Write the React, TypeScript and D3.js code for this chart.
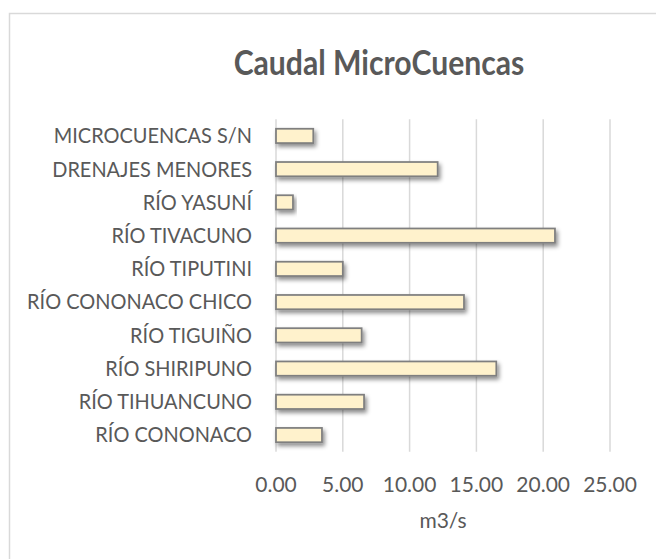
import * as d3 from "d3";

// categorías de arriba hacia abajo
const categories = [
  "MICROCUENCAS S/N",
  "DRENAJES MENORES",
  "RÍO YASUNÍ",
  "RÍO TIVACUNO",
  "RÍO TIPUTINI",
  "RÍO CONONACO CHICO",
  "RÍO TIGUIÑO",
  "RÍO SHIRIPUNO",
  "RÍO TIHUANCUNO",
  "RÍO CONONACO",
];
const caudal = [2.79, 12.1, 1.27, 20.88, 5.0, 14.07, 6.41, 16.49, 6.59, 3.44];
const ticks = [0, 5, 10, 15, 20, 25];

const W = 656;
const H = 559;
const plot = { left: 276, right: 610, top: 119.3, bottom: 451.7 };
const textColor = "#595959";
const font = "Lato, 'Open Sans', sans-serif";

export default function App() {
  const x = d3.scaleLinear().domain([0, 25]).range([plot.left, plot.right]);
  const y = d3
    .scaleBand<string>()
    .domain(categories)
    .range([plot.top, plot.bottom])
    .paddingInner(0.57)
    .paddingOuter(0.285);
  const fmt = d3.format(".2f");

  return (
    <svg
      width={W}
      height={H}
      style={{ position: "absolute", left: 0, top: 0, background: "#fff" }}
    >
      <defs>
        <filter id="sombra" x="-10%" y="-50%" width="130%" height="220%">
          <feDropShadow dx="2" dy="3" stdDeviation="2" floodColor="#000" floodOpacity="0.45" />
        </filter>
      </defs>

      {/* marco del gráfico */}
      <rect x={9.5} y={13.5} width={800} height={700} fill="#fff" stroke="#d9d9d9" strokeWidth={1.5} />

      <text
        transform="translate(379,75) scale(0.9,1)"
        textAnchor="middle"
        fontFamily={font}
        fontWeight="bold"
        fontSize={33.5}
        fill={textColor}
      >
        Caudal MicroCuencas
      </text>

      {/* grilla vertical */}
      {ticks.map((t) => (
        <line
          key={t}
          x1={x(t)}
          x2={x(t)}
          y1={plot.top}
          y2={plot.bottom}
          stroke="#d9d9d9"
          strokeWidth={1.5}
        />
      ))}

      {/* barras */}
      {categories.map((c, i) => (
        <rect
          key={c}
          x={x(0)}
          y={y(c)}
          width={x(caudal[i]) - x(0)}
          height={y.bandwidth()}
          fill="#fff2cc"
          stroke="#7f7f7f"
          strokeWidth={1.75}
          filter="url(#sombra)"
        />
      ))}

      {/* etiquetas de categorías */}
      {categories.map((c) => (
        <text
          key={c}
          transform={`translate(252,${(y(c) ?? 0) + y.bandwidth() / 2}) scale(0.95,1)`}
          dy="0.35em"
          textAnchor="end"
          fontFamily={font}
          fontSize={21}
          fill={textColor}
        >
          {c}
        </text>
      ))}

      {/* etiquetas del eje x */}
      {ticks.map((t) => (
        <text
          key={t}
          x={x(t)}
          y={491.7}
          textAnchor="middle"
          fontFamily={font}
          fontSize={21}
          fill={textColor}
        >
          {fmt(t)}
        </text>
      ))}

      <text
        x={(plot.left + plot.right) / 2}
        y={528}
        textAnchor="middle"
        fontFamily={font}
        fontSize={21}
        fill={textColor}
      >
        m3/s
      </text>
    </svg>
  );
}
